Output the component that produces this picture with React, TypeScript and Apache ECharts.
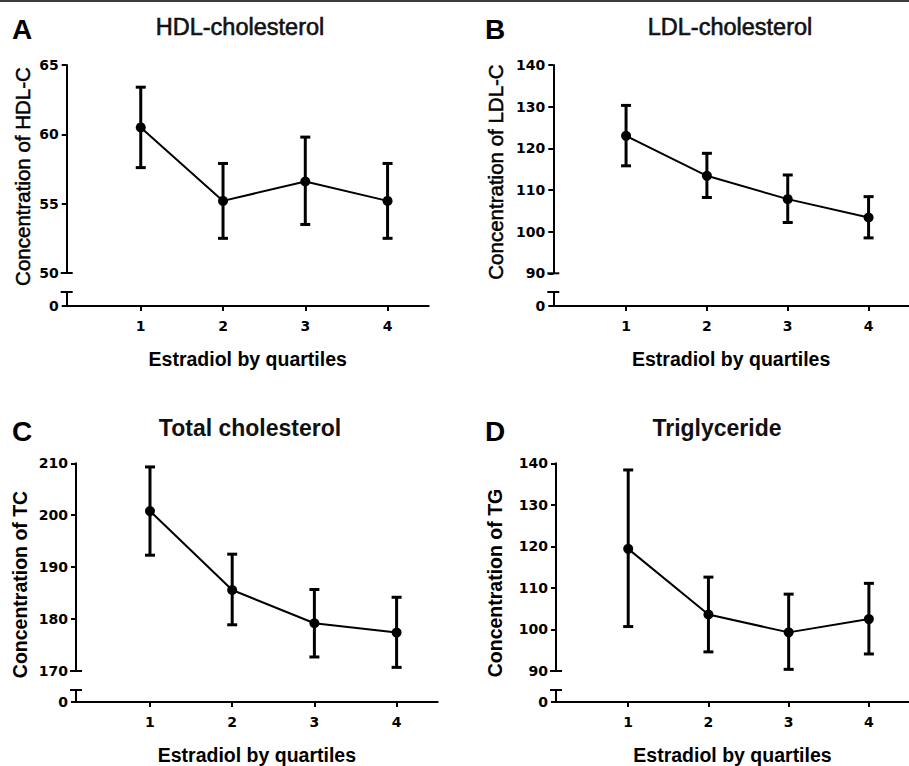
import React, { useEffect, useRef } from "react";
import * as echarts from "echarts";

// ---------- data ----------
const quartiles = [1, 2, 3, 4];

const hdlMean = [60.5, 55.2, 56.6, 55.2];
const hdlUpper = [63.4, 57.9, 59.8, 57.9];
const hdlLower = [57.6, 52.5, 53.5, 52.5];

const ldlMean = [123.0, 113.4, 107.8, 103.4];
const ldlUpper = [130.3, 118.8, 113.6, 108.4];
const ldlLower = [115.8, 108.2, 102.2, 98.5];

const tcMean = [200.8, 185.6, 179.2, 177.4];
const tcUpper = [209.3, 192.5, 185.7, 184.2];
const tcLower = [192.3, 178.9, 172.7, 170.7];

const tgMean = [119.4, 103.6, 99.3, 102.5];
const tgUpper = [138.4, 112.6, 108.5, 111.1];
const tgLower = [100.7, 94.6, 90.4, 94.1];

const hdlAxis = { min: 50, max: 65, interval: 5 };
const ldlAxis = { min: 90, max: 140, interval: 10 };
const tcAxis = { min: 170, max: 210, interval: 10 };
const tgAxis = { min: 90, max: 140, interval: 10 };

const xTitle = "Estradiol by quartiles";
const xMin = 0.1;
const xMax = 4.5;

// ---------- layout ----------
const FONT = "'Liberation Sans', Arial, Helvetica, sans-serif";
const TICK_FAMILY = "'DejaVu Sans', 'Liberation Sans', Arial, sans-serif";
const TICK_FONT = 14;

type Panel = {
  letter: string;
  title: string;
  yName: string;
  bold: boolean;
  mean: number[];
  upper: number[];
  lower: number[];
  axis: { min: number; max: number; interval: number };
  left: number;
  width: number;
  top: number;
  mainBottom: number;
  breakTop: number;
  xAxisY: number;
  titleX: number;
  titleY: number;
  letterX: number;
  letterY: number;
  yNameX: number;
  yNameY: number;
};

const panels: Panel[] = [
  {
    letter: "A", title: "HDL-cholesterol", yName: "Concentration of HDL-C", bold: false,
    mean: hdlMean, upper: hdlUpper, lower: hdlLower, axis: hdlAxis,
    left: 66.7, width: 362, top: 65, mainBottom: 273, breakTop: 292, xAxisY: 306,
    titleX: 240, titleY: 27, letterX: 22, letterY: 29, yNameX: 22, yNameY: 176.5,
  },
  {
    letter: "B", title: "LDL-cholesterol", yName: "Concentration of LDL-C", bold: false,
    mean: ldlMean, upper: ldlUpper, lower: ldlLower, axis: ldlAxis,
    left: 553.3, width: 361.7, top: 65, mainBottom: 273.3, breakTop: 292, xAxisY: 306,
    titleX: 730, titleY: 27, letterX: 495, letterY: 29, yNameX: 495, yNameY: 172,
  },
  {
    letter: "C", title: "Total cholesterol", yName: "Concentration of TC", bold: true,
    mean: tcMean, upper: tcUpper, lower: tcLower, axis: tcAxis,
    left: 76, width: 361.7, top: 463.3, mainBottom: 671, breakTop: 690, xAxisY: 705,
    titleX: 250, titleY: 428, letterX: 22, letterY: 431, yNameX: 20, yNameY: 584.5,
  },
  {
    letter: "D", title: "Triglyceride", yName: "Concentration of TG", bold: true,
    mean: tgMean, upper: tgUpper, lower: tgLower, axis: tgAxis,
    left: 556, width: 363, top: 463.3, mainBottom: 671, breakTop: 690, xAxisY: 705,
    titleX: 717, titleY: 428, letterX: 495, letterY: 431, yNameX: 495, yNameY: 583,
  },
];

function buildOption() {
  const grid: any[] = [];
  const xAxis: any[] = [];
  const yAxis: any[] = [];
  const series: any[] = [];
  const graphic: any[] = [
    { type: "rect", shape: { x: 0, y: 0, width: 909, height: 2 }, style: { fill: "#3c3c3c" } },
  ];

  const tickLabel = {
    color: "#000", fontFamily: TICK_FAMILY, fontWeight: "bold", fontSize: TICK_FONT,
  };

  panels.forEach((p, i) => {
    const gMain = i * 2;
    const gLow = i * 2 + 1;
    grid.push({ left: p.left, width: p.width, top: p.top, height: p.mainBottom - p.top });
    grid.push({ left: p.left, width: p.width, top: p.breakTop, height: p.xAxisY - p.breakTop });

    xAxis.push({
      type: "value", gridIndex: gMain, min: xMin, max: xMax, show: false,
    });
    xAxis.push({
      type: "value", gridIndex: gLow, min: xMin, max: xMax,
      axisLine: { show: true, onZero: false, lineStyle: { color: "#000", width: 2 } },
      axisTick: { show: true, length: 5, customValues: quartiles, lineStyle: { color: "#000", width: 2 } },
      axisLabel: { show: true, customValues: quartiles, margin: 13, ...tickLabel },
      splitLine: { show: false },
      name: xTitle, nameLocation: "middle", nameGap: 43,
      nameTextStyle: { color: "#000", fontFamily: FONT, fontWeight: "bold", fontSize: 19.5 },
    });

    yAxis.push({
      type: "value", gridIndex: gMain, min: p.axis.min, max: p.axis.max, interval: p.axis.interval,
      axisLine: { show: true, onZero: false, lineStyle: { color: "#000", width: 2 } },
      axisTick: { show: true, length: 5, lineStyle: { color: "#000", width: 2 } },
      axisLabel: { margin: 8, ...tickLabel },
      splitLine: { show: false },
    });
    yAxis.push({
      type: "value", gridIndex: gLow, min: 0, max: 1, interval: 1,
      axisLine: { show: true, onZero: false, lineStyle: { color: "#000", width: 2 } },
      axisTick: { show: true, length: 5, lineStyle: { color: "#000", width: 2 } },
      axisLabel: { margin: 8, ...tickLabel, formatter: (v: number) => (v === 0 ? "0" : "") },
      splitLine: { show: false },
    });

    // axis-break caps
    const capRender = (params: any, api: any) => {
      const c = api.coord([api.value(0), api.value(1)]);
      return {
        type: "line",
        shape: { x1: c[0] - 6, y1: c[1], x2: c[0] + 6, y2: c[1] },
        style: { stroke: "#000", lineWidth: 2 },
      };
    };
    series.push({
      type: "custom", xAxisIndex: gMain, yAxisIndex: gMain, clip: false, silent: true,
      renderItem: capRender, data: [[xMin, p.axis.min]],
    });
    series.push({
      type: "custom", xAxisIndex: gLow, yAxisIndex: gLow, clip: false, silent: true,
      renderItem: capRender, data: [[xMin, 1]],
    });

    // error bars
    series.push({
      type: "custom", xAxisIndex: gMain, yAxisIndex: gMain, clip: false, z: 3,
      encode: { x: 0, y: [1, 2] },
      data: quartiles.map((q, k) => [q, p.lower[k], p.upper[k]]),
      renderItem: (params: any, api: any) => {
        const x = api.value(0);
        const lo = api.coord([x, api.value(1)]);
        const hi = api.coord([x, api.value(2)]);
        const hw = 5;
        const st = { stroke: "#000", lineWidth: 3 };
        return {
          type: "group",
          children: [
            { type: "line", shape: { x1: lo[0], y1: lo[1], x2: hi[0], y2: hi[1] }, style: st },
            { type: "line", shape: { x1: hi[0] - hw, y1: hi[1], x2: hi[0] + hw, y2: hi[1] }, style: st },
            { type: "line", shape: { x1: lo[0] - hw, y1: lo[1], x2: lo[0] + hw, y2: lo[1] }, style: st },
          ],
        };
      },
    });

    // mean line
    series.push({
      type: "line", xAxisIndex: gMain, yAxisIndex: gMain, z: 4,
      data: quartiles.map((q, k) => [q, p.mean[k]]),
      symbol: "circle", symbolSize: 10, showSymbol: true,
      itemStyle: { color: "#000" },
      lineStyle: { color: "#000", width: 2 },
    });

    graphic.push({
      type: "text", x: p.titleX, y: p.titleY,
      style: {
        text: p.title, fill: "#111", font: `${p.bold ? "bold 23px" : "23.5px"} ${FONT}`,
        align: "center", verticalAlign: "middle",
        stroke: p.bold ? undefined : "#111", lineWidth: p.bold ? 0 : 0.6,
      },
    });
    graphic.push({
      type: "text", x: p.letterX, y: p.letterY,
      style: { text: p.letter, fill: "#000", font: `bold 28px ${FONT}`, align: "center", verticalAlign: "middle" },
    });
    graphic.push({
      type: "text", x: p.yNameX, y: p.yNameY, rotation: Math.PI / 2,
      style: {
        text: p.yName, fill: "#000", font: `${p.bold ? "bold 19.5px" : "20.5px"} ${FONT}`,
        align: "center", verticalAlign: "middle",
        stroke: p.bold ? undefined : "#000", lineWidth: p.bold ? 0 : 0.5,
      },
    });
  });

  return {
    animation: false,
    backgroundColor: "#fff",
    grid, xAxis, yAxis, series, graphic,
  };
}

export default function App() {
  const ref = useRef<HTMLDivElement>(null);
  useEffect(() => {
    if (!ref.current) return;
    const chart = echarts.init(ref.current, null, { renderer: "svg" });
    chart.setOption(buildOption() as any);
    return () => chart.dispose();
  }, []);
  return (
    <div
      ref={ref}
      style={{ position: "absolute", left: 0, top: 0, width: 909, height: 766, background: "#fff" }}
    />
  );
}
